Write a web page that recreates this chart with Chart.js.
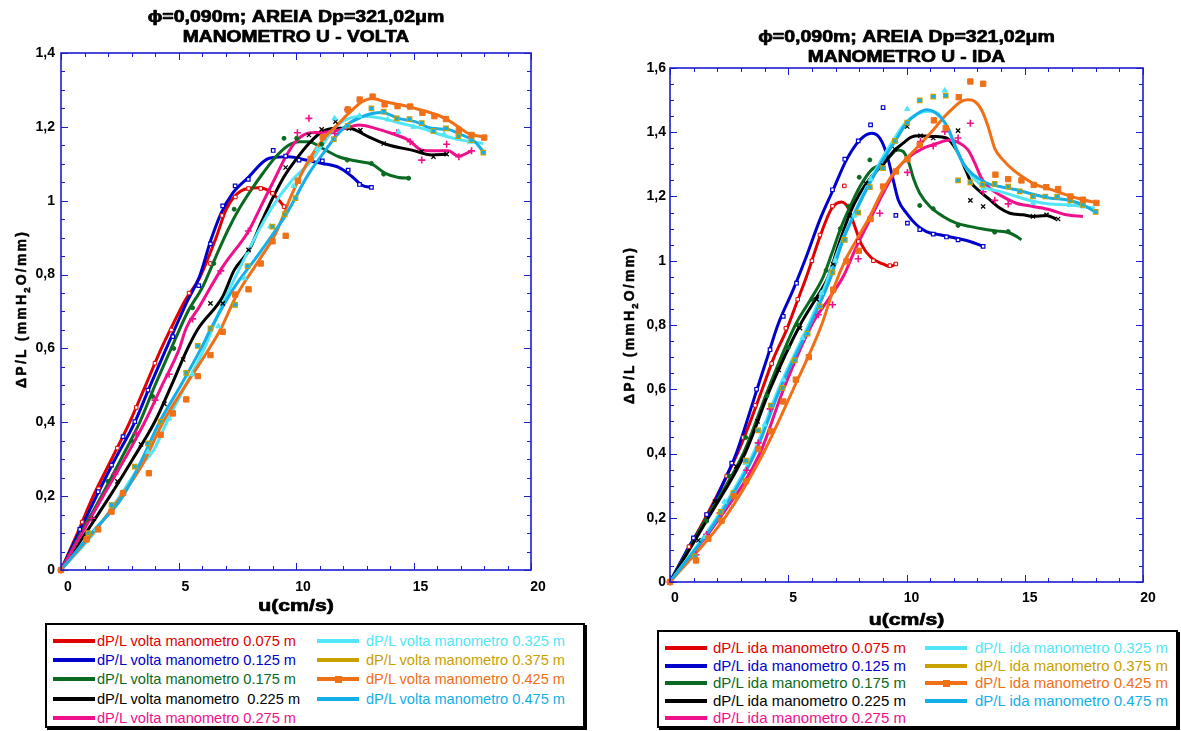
<!DOCTYPE html>
<html><head><meta charset="utf-8">
<script src="https://cdn.jsdelivr.net/npm/chart.js@4/dist/chart.umd.min.js"></script>
<style>
html,body{margin:0;padding:0;background:#fff}
body{width:1181px;height:731px;overflow:hidden;position:relative;font-family:"Liberation Sans",Arial,sans-serif}
canvas{position:absolute;top:0}
#c1{left:0}
#c2{left:590px}
.legend{position:absolute;border:2px solid #000;box-shadow:2px 2px 0 #000;background:#fff;box-sizing:border-box;z-index:2}
.item{position:absolute;height:18px;white-space:pre;line-height:18px}
.swatch{position:absolute;top:7px;height:4px;width:42px}
.mk{position:absolute;top:-2px;left:18px;width:6px;height:6px}
.txt{position:absolute;top:0}
</style>
</head><body>
<canvas id="c1" width="590" height="620"></canvas>
<canvas id="c2" width="591" height="630"></canvas>
<div id="lg1" class="legend" style="left:45px;top:623px;width:540px;height:105px"></div>
<div id="lg2" class="legend" style="left:657px;top:630px;width:521px;height:98px"></div>
<script>
// ---------- DATA ----------
const seriesPositions = ['0.075','0.125','0.175','0.225','0.275','0.325','0.375','0.425','0.475'];
const voltaLabels = ['dP/L volta manometro 0.075 m','dP/L volta manometro 0.125 m','dP/L volta manometro 0.175 m','dP/L volta manometro  0.225 m','dP/L volta manometro 0.275 m','dP/L volta manometro 0.325 m','dP/L volta manometro 0.375 m','dP/L volta manometro 0.425 m','dP/L volta manometro 0.475 m'];
const idaLabels = ['dP/L ida manometro 0.075 m','dP/L ida manometro 0.125 m','dP/L ida manometro 0.175 m','dP/L ida manometro 0.225 m','dP/L ida manometro 0.275 m','dP/L ida manometro 0.325 m','dP/L ida manometro 0.375 m','dP/L ida manometro 0.425 m','dP/L ida manometro 0.475 m'];
const xTickLabels = ['0','5','10','15','20'];
const voltaYTickLabels = ['0','0,2','0,4','0,6','0,8','1','1,2','1,4'];
const idaYTickLabels = ['0','0,2','0,4','0,6','0,8','1','1,2','1,4','1,6'];
const voltaTitle = ['\u03D5=0,090m; AREIA Dp=321,02\u03BCm','MANOMETRO U - VOLTA'];
const idaTitle = ['\u03D5=0,090m; AREIA Dp=321,02\u03BCm','MANOMETRO U - IDA'];
const xTitle = 'u(cm/s)';

// VOLTA curves [u (cm/s), dP/L (mmH2O/mm)]
const voltaCurve075 = [[0,0],[0.7,0.1],[1.37,0.2],[2.15,0.3],[2.92,0.4],[3.6,0.5],[4.27,0.6],[4.8,0.67],[5.28,0.73],[5.89,0.79],[6.6,0.9],[7.02,0.975],[7.37,1.011],[7.94,1.033],[8.43,1.035],[9.0,1.02],[9.49,0.985]];
const voltaCurve125 = [[0,0],[0.75,0.1],[1.51,0.2],[2.3,0.3],[3.14,0.4],[3.8,0.5],[4.48,0.6],[5.39,0.73],[5.89,0.794],[6.38,0.894],[6.81,0.966],[7.3,1.02],[7.94,1.061],[8.86,1.115],[9.7,1.119],[10.41,1.11],[11.12,1.101],[11.82,1.09],[12.39,1.065],[12.81,1.042],[13.23,1.036]];
const voltaCurve175 = [[0,0],[0.85,0.1],[1.72,0.2],[2.55,0.3],[3.35,0.4],[4.0,0.5],[4.69,0.6],[5.4,0.7],[6.03,0.767],[6.6,0.85],[7.1,0.92],[7.6,0.98],[8.1,1.03],[8.6,1.075],[9.14,1.119],[9.7,1.151],[10.13,1.16],[10.55,1.16],[11.12,1.142],[11.82,1.119],[12.67,1.106],[13.23,1.099],[13.8,1.074],[14.36,1.063],[14.86,1.061]];
const voltaCurve225 = [[0,0],[1.05,0.1],[2.08,0.2],[3.05,0.3],[3.98,0.4],[4.7,0.5],[5.39,0.6],[5.82,0.652],[6.88,0.74],[7.37,0.812],[8.01,0.867],[8.57,0.948],[9.07,1.015],[9.49,1.065],[9.98,1.11],[10.55,1.155],[11.12,1.187],[11.68,1.196],[12.25,1.196],[13.09,1.173],[13.94,1.151],[14.93,1.137],[15.78,1.124],[16.41,1.126]];
const voltaCurve275 = [[0,0],[0.9,0.1],[1.79,0.2],[2.7,0.3],[3.56,0.4],[4.3,0.5],[5.04,0.6],[5.32,0.654],[5.89,0.713],[6.88,0.821],[8.01,0.921],[8.57,0.993],[9.14,1.065],[9.56,1.119],[9.98,1.16],[10.48,1.182],[10.97,1.185],[11.54,1.187],[12.1,1.196],[12.67,1.205],[13.37,1.196],[14.08,1.182],[14.79,1.164],[15.35,1.137],[15.92,1.135],[16.48,1.135],[16.91,1.121],[17.47,1.135]];
const voltaCurve325 = [[0,0],[1.4,0.1],[2.5,0.2],[3.35,0.28],[3.9,0.32],[4.5,0.4],[5.3,0.5],[6.1,0.6],[6.6,0.68],[7.02,0.74],[8.43,0.921],[9.0,0.984],[9.84,1.056],[10.55,1.101],[11.12,1.151],[11.68,1.2],[12.25,1.223],[12.95,1.229],[13.66,1.223],[14.5,1.209],[15.35,1.196],[16.2,1.178],[17.05,1.164],[17.97,1.155]];
const voltaCurve425 = [[0,0],[1.35,0.1],[2.57,0.2],[3.5,0.29],[4.34,0.4],[5.3,0.5],[6.31,0.6],[6.81,0.654],[7.44,0.74],[8.43,0.839],[9.14,0.912],[9.84,1.02],[10.55,1.11],[11.12,1.164],[11.68,1.2],[12.25,1.237],[12.81,1.268],[13.23,1.277],[13.8,1.268],[14.5,1.259],[15.07,1.25],[15.78,1.237],[16.34,1.223],[16.91,1.2],[17.33,1.182],[17.97,1.173]];
const voltaCurve475 = [[0,0],[1.3,0.1],[2.64,0.2],[3.45,0.3],[4.19,0.4],[5.1,0.5],[5.96,0.6],[6.38,0.654],[7.3,0.758],[8.43,0.857],[9.56,0.961],[10.55,1.074],[11.26,1.137],[11.68,1.173],[12.25,1.209],[12.81,1.227],[13.23,1.236],[13.66,1.239],[14.36,1.223],[15.07,1.214],[15.78,1.196],[16.48,1.193],[17.05,1.178],[17.54,1.164],[17.97,1.133]];

// VOLTA measured points
const voltaMarks075 = [[0,0],[0.9,0.13],[1.6,0.22],[2.4,0.33],[3.2,0.44],[4.0,0.56],[4.7,0.65],[5.45,0.75],[6.36,0.83],[6.85,0.96],[7.42,1.01],[7.98,1.033],[8.5,1.033],[9.0,1.02],[9.49,0.984]];
const voltaMarks125 = [[0,0],[0.8,0.11],[1.58,0.212],[2.15,0.284],[2.64,0.361],[3.14,0.402],[3.7,0.487],[4.76,0.632],[5.86,0.77],[6.36,0.883],[6.88,0.986],[7.41,1.04],[7.97,1.058],[9.03,1.136],[9.56,1.121],[10.13,1.11],[11.12,1.108],[12.22,1.083],[12.7,1.044],[13.21,1.036]];
const voltaMarks175 = [[0,0],[1.2,0.14],[2.0,0.24],[3.0,0.35],[3.9,0.47],[4.8,0.6],[5.6,0.71],[6.5,0.83],[7.37,0.977],[9.49,1.169],[10.03,1.169],[11.09,1.153],[12.18,1.11],[13.21,1.101],[13.73,1.072],[14.79,1.061]];
const voltaMarks225 = [[0,0],[1.4,0.14],[2.4,0.24],[3.4,0.34],[4.4,0.45],[5.2,0.57],[6.36,0.722],[6.88,0.722],[7.98,0.867],[9.56,1.09],[10.55,1.178],[11.09,1.193],[11.68,1.214],[12.25,1.196],[12.74,1.191],[13.73,1.155],[15.35,1.133],[15.85,1.119],[16.41,1.126]];
const voltaMarks275 = [[0,0],[1.3,0.14],[2.3,0.26],[3.2,0.37],[4.0,0.46],[4.6,0.53],[5.6,0.68],[6.8,0.81],[7.97,0.918],[10.06,1.184],[10.55,1.223],[11.65,1.182],[12.19,1.247],[14.29,1.184],[14.86,1.16],[15.35,1.11],[16.41,1.153],[16.93,1.119],[17.47,1.135]];
const voltaMarks325 = [[0,0],[1.5,0.11],[2.6,0.21],[3.7,0.32],[4.6,0.41],[5.6,0.53],[6.7,0.66],[7.8,0.79],[8.9,0.93],[9.9,1.04],[10.9,1.14],[11.64,1.223],[12.7,1.23],[13.9,1.22],[14.36,1.187],[15.0,1.2],[16.3,1.18],[17.4,1.16]];
const voltaMarks375 = [[0,0],[1.16,0.1],[2.15,0.176],[3.14,0.28],[3.7,0.343],[4.24,0.402],[5.33,0.534],[5.82,0.607],[6.36,0.654],[7.41,0.718],[7.94,0.823],[9.0,0.93],[9.52,0.963],[9.98,1.007],[11.61,1.167],[12.2,1.203],[13.21,1.25],[13.73,1.241],[14.29,1.223],[14.83,1.221],[15.35,1.21],[15.85,1.189],[16.38,1.196],[16.91,1.175],[17.47,1.164],[17.97,1.13]];
const voltaMarks425 = [[0,0],[1.09,0.083],[1.58,0.11],[2.15,0.158],[2.64,0.208],[3.74,0.262],[4.24,0.366],[4.76,0.424],[5.33,0.462],[5.82,0.525],[6.36,0.582],[6.88,0.645],[7.41,0.746],[7.98,0.76],[8.5,0.83],[9.0,0.89],[9.56,0.905],[10.08,1.054],[10.62,1.113],[11.14,1.172],[12.2,1.247],[12.71,1.274],[13.26,1.282],[13.77,1.261],[14.32,1.256],[14.86,1.255],[15.38,1.238],[15.89,1.229],[16.38,1.221],[16.93,1.191],[17.47,1.178],[18.01,1.171]];
const voltaMarks475 = [];

// IDA curves
const idaCurve075 = [[0,0],[0.75,0.1],[1.5,0.2],[2.2,0.3],[2.85,0.4],[3.4,0.5],[3.9,0.6],[4.4,0.7],[4.93,0.785],[5.35,0.868],[5.77,0.95],[6.34,1.075],[6.83,1.162],[7.25,1.183],[7.53,1.165],[7.8,1.11],[8.1,1.05],[8.5,1.01],[9.0,0.99],[9.3,0.982],[9.55,0.99]];
const idaCurve125 = [[0,0],[0.8,0.11],[1.56,0.2],[2.2,0.3],[2.8,0.4],[3.25,0.5],[3.68,0.6],[4.12,0.7],[4.56,0.8],[5.21,0.91],[5.77,1.014],[6.34,1.128],[6.9,1.221],[7.46,1.314],[8.03,1.376],[8.52,1.397],[8.87,1.382],[9.15,1.335],[9.37,1.273],[9.65,1.19],[10.0,1.148],[10.42,1.112],[10.84,1.091],[11.41,1.081],[12.11,1.07],[12.68,1.06],[13.24,1.045]];
const idaCurve175 = [[0,0],[1.55,0.2],[3.1,0.4],[4.15,0.6],[5.3,0.8],[5.95,0.88],[6.48,0.95],[6.83,1.02],[7.25,1.107],[7.68,1.179],[8.03,1.231],[8.52,1.283],[9.01,1.304],[9.3,1.325],[9.6,1.345],[9.86,1.34],[10.1,1.305],[10.3,1.255],[10.56,1.21],[10.99,1.169],[11.55,1.138],[12.11,1.117],[12.68,1.107],[13.24,1.099],[13.8,1.093],[14.3,1.088],[14.65,1.076],[14.86,1.065]];
const idaCurve225 = [[0,0],[1.62,0.2],[3.17,0.4],[4.23,0.6],[5.5,0.8],[6.15,0.88],[6.69,0.95],[7.11,1.045],[7.61,1.148],[8.03,1.21],[8.5,1.26],[9.01,1.3],[9.51,1.345],[9.86,1.366],[10.2,1.385],[10.56,1.389],[11.13,1.387],[11.69,1.382],[11.97,1.361],[12.25,1.325],[12.53,1.278],[12.75,1.242],[13.1,1.216],[13.52,1.19],[13.94,1.164],[14.37,1.148],[14.93,1.143],[15.35,1.138],[15.91,1.141],[16.34,1.13]];
const idaCurve275 = [[0,0],[2.11,0.2],[3.8,0.4],[4.8,0.6],[5.99,0.8],[6.7,0.88],[7.32,0.95],[7.89,1.045],[8.45,1.127],[9.01,1.21],[9.58,1.283],[10.14,1.325],[10.7,1.35],[11.27,1.365],[11.83,1.376],[12.25,1.366],[12.6,1.345],[12.89,1.304],[13.17,1.257],[13.52,1.226],[13.94,1.205],[14.65,1.179],[15.35,1.169],[16.06,1.159],[16.76,1.143],[17.46,1.138]];
const idaCurve325 = [[0,0],[1.97,0.2],[3.52,0.4],[4.58,0.6],[5.85,0.8],[6.6,0.93],[7.2,1.05],[7.8,1.15],[8.35,1.235],[8.9,1.31],[9.4,1.37],[9.9,1.425],[10.4,1.455],[10.9,1.465],[11.3,1.46],[11.6,1.43],[11.9,1.385],[12.2,1.33],[12.6,1.28],[13.24,1.231],[13.94,1.216],[14.65,1.2],[15.35,1.185],[16.06,1.177],[16.76,1.174],[17.46,1.169],[17.96,1.164]];
const idaCurve425 = [[0,0],[2.32,0.2],[3.94,0.4],[5.21,0.6],[6.41,0.8],[6.95,0.92],[7.39,0.998],[7.89,1.065],[8.45,1.138],[9.01,1.221],[9.58,1.285],[10.0,1.318],[10.56,1.361],[11.13,1.407],[11.55,1.444],[11.97,1.475],[12.32,1.496],[12.6,1.501],[12.89,1.496],[13.17,1.47],[13.45,1.418],[13.73,1.35],[14.08,1.314],[14.51,1.283],[15.0,1.257],[15.49,1.236],[16.06,1.223],[16.76,1.205],[17.46,1.19],[18.03,1.181]];
const idaCurve475 = [[0,0],[2.04,0.2],[3.59,0.4],[4.65,0.6],[5.92,0.8],[6.76,0.941],[7.32,1.065],[7.89,1.159],[8.45,1.242],[9.01,1.314],[9.51,1.371],[10.0,1.428],[10.49,1.459],[10.85,1.47],[11.13,1.465],[11.48,1.444],[11.76,1.413],[12.04,1.361],[12.39,1.304],[12.82,1.268],[13.38,1.242],[13.94,1.231],[14.65,1.221],[15.35,1.207],[16.06,1.195],[16.76,1.19],[17.46,1.174],[17.96,1.153]];

// IDA measured points
const idaMarks075 = [[0,0],[0.8,0.11],[1.55,0.21],[2.4,0.33],[3.1,0.45],[3.6,0.55],[4.3,0.68],[4.9,0.79],[5.4,0.88],[6.0,1.0],[6.34,1.08],[6.87,1.17],[7.37,1.233],[7.96,1.06],[8.6,1.0],[9.3,0.985],[9.55,0.99]];
const idaMarks125 = [[0,0],[0.99,0.137],[1.55,0.21],[2.61,0.37],[3.66,0.6],[4.23,0.723],[4.79,0.827],[5.35,0.93],[6.87,1.221],[7.39,1.316],[7.96,1.373],[8.48,1.423],[9.01,1.477],[9.55,1.141],[10.04,1.117],[10.56,1.097],[11.13,1.083],[11.69,1.074],[12.18,1.065],[13.24,1.045]];
const idaMarks175 = [[0,0],[1.55,0.19],[2.5,0.33],[3.2,0.45],[4.1,0.58],[5.0,0.73],[5.4,0.8],[6.0,0.88],[6.6,0.97],[7.2,1.1],[7.55,1.17],[8.0,1.26],[8.45,1.314],[10.56,1.172],[11.13,1.162],[12.18,1.11],[13.73,1.089],[14.3,1.091]];
const idaMarks225 = [[0,0],[1.2,0.13],[1.9,0.25],[2.8,0.36],[3.7,0.5],[4.6,0.66],[5.5,0.79],[6.2,0.88],[6.9,0.99],[7.6,1.14],[8.3,1.24],[9.01,1.296],[9.51,1.347],[10.03,1.418],[10.59,1.389],[11.13,1.382],[12.18,1.405],[12.7,1.188],[13.24,1.169],[15.35,1.138],[15.92,1.143],[16.41,1.13]];
const idaMarks275 = [[0,0],[1.1,0.085],[1.55,0.148],[2.11,0.215],[3.24,0.348],[3.73,0.433],[4.23,0.539],[6.27,0.832],[6.87,0.863],[7.96,1.006],[8.87,1.148],[10.04,1.275],[10.59,1.371],[11.13,1.357],[11.62,1.402],[12.18,1.382],[12.7,1.428],[13.24,1.215],[13.73,1.188],[14.3,1.177]];
const idaMarks325 = [[0,0],[1.5,0.14],[2.3,0.25],[3.2,0.37],[4.0,0.49],[4.8,0.63],[5.6,0.76],[6.4,0.9],[7.0,1.0],[7.8,1.14],[8.48,1.254],[9.55,1.371],[10.03,1.472],[11.62,1.53],[13.24,1.226],[15.35,1.18],[16.9,1.174],[17.46,1.169]];
const idaMarks375 = [[0,0],[1.06,0.08],[2.14,0.218],[2.68,0.277],[3.21,0.378],[3.73,0.472],[4.27,0.549],[4.76,0.604],[5.28,0.69],[5.82,0.773],[6.34,0.858],[6.87,0.964],[7.39,1.065],[7.96,1.15],[8.45,1.229],[9.01,1.288],[9.51,1.373],[10.03,1.43],[10.56,1.499],[11.13,1.511],[11.66,1.514],[12.18,1.25],[12.7,1.244],[13.21,1.237],[13.73,1.239],[14.3,1.231],[14.79,1.216],[15.35,1.2],[15.87,1.2],[16.37,1.2],[16.93,1.188],[17.46,1.174],[18.0,1.152]];
const idaMarks425 = [[0,0],[1.1,0.067],[1.62,0.135],[2.18,0.191],[2.7,0.267],[3.21,0.314],[3.73,0.414],[4.27,0.469],[4.79,0.562],[5.32,0.63],[5.87,0.7],[6.9,0.91],[7.46,0.998],[7.98,1.031],[8.48,1.13],[9.01,1.231],[9.55,1.278],[10.04,1.316],[10.56,1.361],[11.16,1.437],[11.66,1.413],[12.21,1.509],[12.7,1.558],[13.24,1.551],[13.76,1.268],[14.3,1.254],[14.86,1.25],[15.38,1.236],[15.91,1.229],[16.41,1.223],[16.93,1.2],[17.46,1.19],[18.03,1.18]];
const idaMarks475 = [];

// ---------- STYLE ----------
const colors = ['#e00000','#0000cc','#0b6a22','#000000','#f0108c','#52e6f8','#c8a000','#f07018','#14aee8'];
const markStyle = [
  {ps:'rect', r:2.5, bg:'#ffffff', bw:1},
  {ps:'rect', r:2.5, bg:'#ffffff', bw:1.2},
  {ps:'circle', r:2, bg:null, bw:1},
  {ps:'crossRot', r:3, bg:null, bw:1.3},
  {ps:'cross', r:3.5, bg:null, bw:1.6},
  {ps:'triangle', r:3, bg:null, bw:1},
  {ps:'rect', r:3.2, bg:'#14aee8', bw:1.2},
  {ps:'rect', r:3.8, bg:null, bw:1},
  {ps:'circle', r:2.5, bg:null, bw:1}
];
const voltaCurves = [voltaCurve075,voltaCurve125,voltaCurve175,voltaCurve225,voltaCurve275,voltaCurve325,null,voltaCurve425,voltaCurve475];
const voltaMarks = [voltaMarks075,voltaMarks125,voltaMarks175,voltaMarks225,voltaMarks275,voltaMarks325,voltaMarks375,voltaMarks425,voltaMarks475];
const idaCurves = [idaCurve075,idaCurve125,idaCurve175,idaCurve225,idaCurve275,idaCurve325,null,idaCurve425,idaCurve475];
const idaMarks = [idaMarks075,idaMarks125,idaMarks175,idaMarks225,idaMarks275,idaMarks325,idaMarks375,idaMarks425,idaMarks475];

const FONT = '"Liberation Sans", Arial, sans-serif';
const AXIS_BLUE = '#1c1cd0';

function toXY(arr){ return arr.map(p => ({x:p[0], y:p[1]})); }

function buildDatasets(curves, marks){
  const ds = [];
  curves.forEach((c,i) => {
    if (!c) return;
    ds.push({data:toXY(c), showLine:true, borderColor:colors[i], backgroundColor:colors[i], borderWidth:3,
      pointRadius:0, cubicInterpolationMode:'monotone', fill:false, order:40 - i, clip:2});
  });
  marks.forEach((m,i) => {
    if (!m.length) return;
    const s = markStyle[i];
    ds.push({data:toXY(m), showLine:false, pointStyle:s.ps, pointRadius:s.r, borderColor:colors[i],
      backgroundColor:s.bg || colors[i], pointBorderWidth:s.bw, order:20 - i, clip:false});
  });
  return ds;
}

function drawStretched(ctx, text, x, y, size, sx){
  ctx.save();
  ctx.translate(x, y); ctx.scale(sx, 1);
  ctx.font = `bold ${size}px ${FONT}`;
  ctx.textAlign = 'center'; ctx.textBaseline = 'middle'; ctx.fillStyle = '#000';
  ctx.strokeStyle = '#000'; ctx.lineWidth = 0.7; ctx.lineJoin = 'round';
  ctx.fillText(text, 0, 0);
  ctx.strokeText(text, 0, 0);
  ctx.restore();
}

function drawYTitle(ctx, x, y, size, spacing){
  const parts = [{t:'\u0394P/L (mmH'},{t:'2', sub:true},{t:'O/mm)'}];
  ctx.save();
  ctx.translate(x, y); ctx.rotate(-Math.PI/2);
  const items = []; let total = 0;
  parts.forEach(p => { for (const ch of p.t){
    const f = `bold ${p.sub ? size*0.68 : size}px ${FONT}`;
    ctx.font = f; const w = ctx.measureText(ch).width;
    items.push({ch, f, w, sub:!!p.sub}); total += w + spacing; } });
  total -= spacing;
  let cx = -total/2;
  ctx.textAlign = 'left'; ctx.textBaseline = 'middle'; ctx.fillStyle = '#000';
  ctx.strokeStyle = '#000'; ctx.lineWidth = 0.5;
  items.forEach(it => { ctx.font = it.f; const yy = it.sub ? size*0.38 : 0; ctx.fillText(it.ch, cx, yy); ctx.strokeText(it.ch, cx, yy); cx += it.w + spacing; });
  ctx.restore();
}

const decor = {
  id:'decor',
  afterDatasetsDraw(chart, args, o){
    const {ctx, chartArea:a, scales:{x, y}} = chart;
    ctx.save();
    ctx.strokeStyle = AXIS_BLUE; ctx.lineWidth = 1;
    ctx.beginPath();
    for (let k = 0; k <= o.xMax; k++){
      const px = Math.round(x.getPixelForValue(k)) + 0.5; const L = k % 5 === 0 ? 7 : 4;
      ctx.moveTo(px, a.bottom); ctx.lineTo(px, a.bottom - L);
      ctx.moveTo(px, a.top); ctx.lineTo(px, a.top + L);
    }
    const ny = Math.round(o.yMax / 0.05);
    for (let k = 0; k <= ny; k++){
      const py = Math.round(y.getPixelForValue(k * 0.05)) + 0.5; const L = k % 4 === 0 ? 7 : 4;
      ctx.moveTo(a.left, py); ctx.lineTo(a.left + L, py);
      ctx.moveTo(a.right, py); ctx.lineTo(a.right - L, py);
    }
    ctx.stroke();
    ctx.lineWidth = 1.6;
    ctx.strokeRect(a.left, a.top, a.right - a.left, a.bottom - a.top);
    ctx.restore();
  },
  afterDraw(chart, args, o){
    const {ctx, chartArea:a} = chart;
    const cx = (a.left + a.right) / 2;
    drawStretched(ctx, o.title[0], cx, o.titleY[0], 16, 1.22);
    drawStretched(ctx, o.title[1], cx, o.titleY[1], 16, 1.2);
    drawStretched(ctx, xTitle, cx, o.xTitleY, 17, 1.25);
    drawYTitle(ctx, o.yTitleX, o.yTitleY, 14, 2.2);
  }
};

function makeChart(id, cfg){
  const canvas = document.getElementById(id);
  const W = canvas.width, H = canvas.height;
  const yW = 50, xH = 40;
  new Chart(canvas.getContext('2d'), {
    type:'scatter',
    data:{datasets:buildDatasets(cfg.curves, cfg.marks)},
    options:{
      responsive:false, animation:false, devicePixelRatio:1,
      layout:{padding:{left:cfg.area.left - yW, top:cfg.area.top, right:W - cfg.area.right, bottom:H - cfg.area.bottom - xH}},
      plugins:{legend:{display:false}, title:{display:false}, tooltip:{enabled:false},
        decor:{xMax:20, yMax:cfg.yMax, title:cfg.title, titleY:cfg.titleY, xTitleY:cfg.xTitleY, yTitleX:cfg.yTitleX, yTitleY:cfg.yTitleY}},
      scales:{
        x:{type:'linear', min:0, max:20,
          grid:{display:false, drawTicks:false}, border:{display:false},
          ticks:{stepSize:5, padding:cfg.xPad, labelOffset:cfg.xLabelOffset, color:'#000', maxRotation:0,
            font:{family:FONT, size:14, weight:'bold'}, callback:(v, i) => xTickLabels[i]},
          afterFit:s => { s.height = xH; }},
        y:{type:'linear', min:0, max:cfg.yMax,
          grid:{display:false, drawTicks:false}, border:{display:false},
          ticks:{stepSize:0.2, padding:cfg.yPad, color:'#000',
            font:{family:FONT, size:14, weight:'bold'}, callback:(v, i) => cfg.yLabels[i]},
          afterFit:s => { s.width = yW; }}
      }
    },
    plugins:[decor]
  });
}

makeChart('c1', {curves:voltaCurves, marks:voltaMarks, yMax:1.4, yLabels:voltaYTickLabels,
  area:{left:61, top:53, right:531, bottom:570}, xPad:9, xLabelOffset:7, yPad:6,
  title:voltaTitle, titleY:[18, 38], xTitleY:606, yTitleX:22, yTitleY:310});
makeChart('c2', {curves:idaCurves, marks:idaMarks, yMax:1.6, yLabels:idaYTickLabels,
  area:{left:80, top:68, right:553, bottom:582}, xPad:8, xLabelOffset:5, yPad:4,
  title:idaTitle, titleY:[38, 58], xTitleY:620, yTitleX:40, yTitleY:326});

// ---------- LEGENDS (HTML) ----------
function buildLegend(el, labels, cfg){
  labels.forEach((lab, i) => {
    const col = i < 5 ? 0 : 1, row = i < 5 ? i : i - 5;
    const it = document.createElement('div');
    it.className = 'item';
    it.style.left = '0px';
    it.style.top = (cfg.row0 + cfg.pitch * row - 9) + 'px';
    it.style.width = '100%';
    const sw = document.createElement('div');
    sw.className = 'swatch';
    sw.style.left = cfg.lineX[col] + 'px';
    sw.style.background = colors[i];
    const mk = document.createElement('div');
    mk.className = 'mk';
    const big = i === 7;
    mk.style.width = mk.style.height = (big ? 7 : 3) + 'px';
    mk.style.top = (big ? -1.5 : 0.5) + 'px';
    mk.style.background = colors[i];
    sw.appendChild(mk);
    const tx = document.createElement('div');
    tx.className = 'txt';
    tx.style.left = cfg.textX[col] + 'px';
    tx.style.color = colors[i];
    tx.style.fontSize = cfg.size + 'px';
    tx.textContent = lab;
    it.appendChild(sw); it.appendChild(tx);
    el.appendChild(it);
  });
}
buildLegend(document.getElementById('lg1'), voltaLabels, {row0:16, pitch:19.2, lineX:[6, 270], textX:[50, 319], size:14.6});
buildLegend(document.getElementById('lg2'), idaLabels, {row0:16, pitch:17.6, lineX:[6, 266], textX:[54, 316], size:15});
</script>
</body></html>
